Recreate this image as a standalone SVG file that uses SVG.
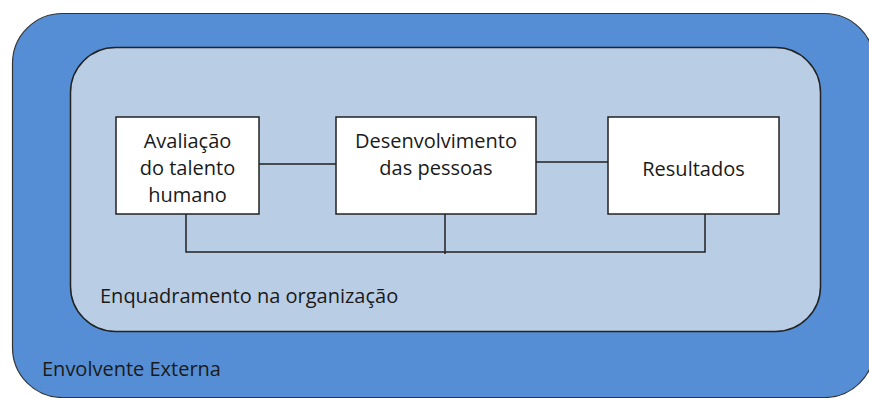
<svg xmlns="http://www.w3.org/2000/svg" width="869" height="398" viewBox="0 0 869 398">
<style>
.box{fill:#fff;stroke:#222;stroke-width:1.5}
.t{font-family:"Open Sans","Liberation Sans",sans-serif;font-size:20px;fill:#1a1a1a;text-anchor:middle}
.l{font-family:"Open Sans","Liberation Sans",sans-serif;font-size:20px;fill:#1a1a1a}
.c{fill:none;stroke:#222;stroke-width:1.5}
</style>
<rect width="869" height="398" fill="#fff"/>
<g id="outer">
<rect x="12.5" y="13.5" width="862" height="384" rx="50" fill="#558ED5" stroke="#333" stroke-width="1.2"/>
<text class="l" x="42" y="376">Envolvente Externa</text>
</g>
<g id="inner">
<rect x="70.5" y="47.5" width="750" height="284" rx="45" fill="#B9CDE5" stroke="#222" stroke-width="1.5"/>
<text class="l" x="100" y="303">Enquadramento na organização</text>
</g>
<g id="connectors">
<path class="c" d="M259 164H336M536 162H608M186 214V252H705V214M445 214V254"/>
</g>
<g id="avaliacao">
<rect class="box" x="116" y="117" width="143" height="97"/>
<text class="t" x="187.5" y="148">Avaliação</text>
<text class="t" x="187.5" y="175">do talento</text>
<text class="t" x="187.5" y="202">humano</text>
</g>
<g id="desenvolvimento">
<rect class="box" x="336" y="117" width="200" height="97"/>
<text class="t" x="436" y="148">Desenvolvimento</text>
<text class="t" x="436" y="175">das pessoas</text>
</g>
<g id="resultados">
<rect class="box" x="608" y="117" width="171" height="97"/>
<text class="t" x="693.5" y="176">Resultados</text>
</g>
</svg>
